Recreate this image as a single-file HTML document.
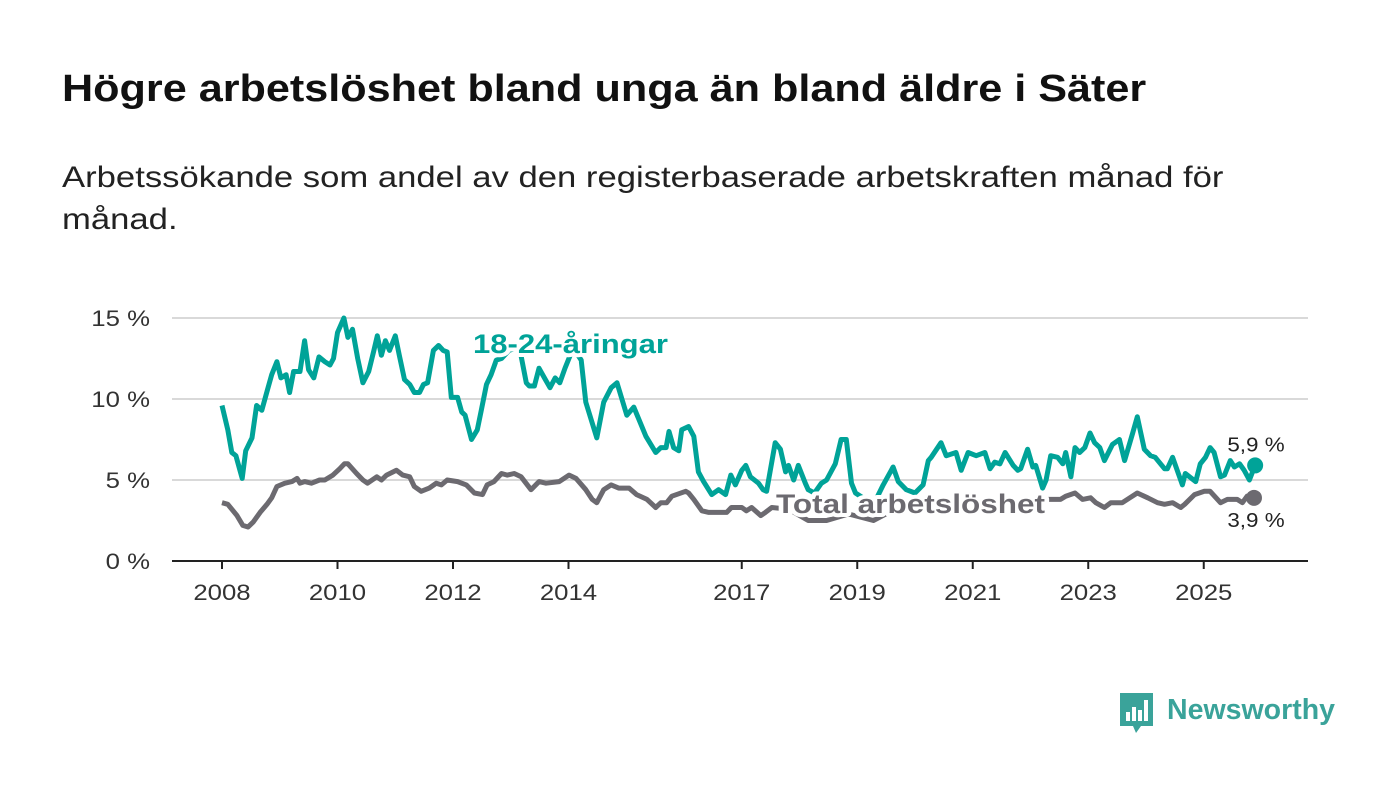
<!DOCTYPE html>
<html><head><meta charset="utf-8">
<style>
html,body{margin:0;padding:0;background:#fff;width:1400px;height:794px;overflow:hidden;font-family:"Liberation Sans",sans-serif;}
#title{position:absolute;left:62px;top:68px;font-size:38px;font-weight:bold;color:#111;white-space:nowrap;transform:scaleX(1.136);transform-origin:0 0}
#subtitle{position:absolute;left:62px;top:157px;font-size:30px;line-height:42px;color:#222;white-space:nowrap;transform:scaleX(1.155);transform-origin:0 0}
svg{position:absolute;left:0;top:0}
</style></head><body>
<div id="title">Högre arbetslöshet bland unga än bland äldre i Säter</div>
<div id="subtitle">Arbetssökande som andel av den registerbaserade arbetskraften månad för<br>månad.</div>
<svg id="chart" width="1400" height="794"></svg>
<script>
// data: years since Jan 2008, and values in percent
const youthT=[0,.10,.17,.24,.35,.41,.52,.60,.69,.79,.86,.95,1.02,1.11,1.17,1.24,1.35,1.43,1.50,1.59,1.68,1.78,1.87,1.93,2.00,2.11,2.18,2.26,2.35,2.44,2.54,2.63,2.69,2.76,2.83,2.90,3.00,3.07,3.16,3.25,3.33,3.42,3.49,3.56,3.66,3.75,3.83,3.90,3.97,4.08,4.15,4.21,4.32,4.42,4.49,4.58,4.66,4.75,4.84,4.97,5.15,5.27,5.32,5.41,5.49,5.60,5.68,5.77,5.85,5.94,6.03,6.11,6.22,6.30,6.49,6.61,6.74,6.84,7.01,7.13,7.34,7.51,7.60,7.69,7.74,7.82,7.91,7.96,8.08,8.17,8.25,8.34,8.48,8.60,8.72,8.81,8.89,9.00,9.07,9.15,9.29,9.37,9.43,9.58,9.67,9.76,9.81,9.90,9.98,10.10,10.15,10.26,10.38,10.47,10.62,10.72,10.81,10.90,10.97,11.14,11.31,11.45,11.62,11.71,11.85,12.00,12.14,12.23,12.28,12.45,12.54,12.71,12.80,12.92,13.06,13.21,13.30,13.38,13.47,13.56,13.70,13.78,13.83,13.95,14.04,14.09,14.21,14.27,14.35,14.47,14.56,14.61,14.70,14.77,14.85,14.94,15.03,15.11,15.20,15.28,15.42,15.54,15.63,15.77,15.85,15.97,16.08,16.16,16.32,16.37,16.46,16.63,16.68,16.86,16.94,17.03,17.11,17.18,17.29,17.36,17.46,17.53,17.62,17.70,17.79,17.89];
const youthV=[9.6,8.1,6.7,6.5,5.1,6.8,7.6,9.6,9.3,10.6,11.5,12.3,11.3,11.5,10.4,11.7,11.7,13.6,11.8,11.3,12.6,12.3,12.1,12.5,14.1,15.0,13.8,14.3,12.5,11.0,11.7,13.0,13.9,12.7,13.6,13.0,13.9,12.7,11.2,10.9,10.4,10.4,10.9,11.0,13.0,13.3,13.0,12.9,10.1,10.1,9.2,9.0,7.5,8.1,9.3,10.9,11.5,12.4,12.5,13.0,13.2,11.0,10.8,10.8,11.9,11.2,10.7,11.3,11.0,11.9,12.7,13.0,12.4,9.8,7.6,9.8,10.7,11.0,9.0,9.5,7.7,6.7,7.0,7.0,8.0,7.0,6.8,8.1,8.3,7.7,5.5,4.9,4.1,4.4,4.1,5.3,4.7,5.6,5.9,5.2,4.8,4.4,4.3,7.3,6.9,5.5,5.9,5.0,5.9,4.8,4.4,4.2,4.8,5.0,6.0,7.5,7.5,4.8,4.2,3.8,3.7,4.7,5.8,4.9,4.4,4.2,4.7,6.2,6.4,7.3,6.5,6.7,5.6,6.7,6.5,6.7,5.7,6.1,6.0,6.7,5.9,5.6,5.7,6.9,5.8,5.9,4.5,5.0,6.5,6.4,6.0,6.7,5.2,7.0,6.7,7.0,7.9,7.3,7.0,6.2,7.2,7.5,6.2,7.9,8.9,6.9,6.5,6.4,5.7,5.7,6.4,4.7,5.4,4.9,6.0,6.4,7.0,6.7,5.2,5.3,6.2,5.8,6.0,5.6,5.0,5.9];
const totalT=[0,.10,.26,.36,.45,.54,.66,.78,.86,.95,1.09,1.21,1.30,1.35,1.43,1.55,1.69,1.78,1.92,2.04,2.12,2.18,2.33,2.44,2.52,2.68,2.76,2.85,3.02,3.13,3.25,3.33,3.45,3.59,3.71,3.80,3.90,4.08,4.23,4.37,4.51,4.59,4.71,4.84,4.94,5.06,5.18,5.35,5.49,5.61,5.84,6.01,6.13,6.30,6.41,6.49,6.61,6.74,6.87,7.05,7.18,7.36,7.51,7.60,7.70,7.79,8.03,8.08,8.17,8.31,8.43,8.65,8.74,8.82,9.00,9.08,9.17,9.33,9.41,9.52,9.81,10.15,10.47,10.85,11.28,11.71,12.14,12.57,13.09,13.61,14.13,14.35,14.52,14.61,14.77,14.90,15.04,15.13,15.28,15.39,15.59,15.72,15.85,16.03,16.20,16.32,16.46,16.60,16.67,16.84,17.01,17.11,17.29,17.41,17.58,17.67,17.75,17.87];
const totalV=[3.6,3.5,2.8,2.2,2.1,2.4,3.0,3.5,3.9,4.6,4.8,4.9,5.1,4.8,4.9,4.8,5.0,5.0,5.3,5.7,6.0,6.0,5.4,5.0,4.8,5.2,5.0,5.3,5.6,5.3,5.2,4.6,4.3,4.5,4.8,4.7,5.0,4.9,4.7,4.2,4.1,4.7,4.9,5.4,5.3,5.4,5.2,4.4,4.9,4.8,4.9,5.3,5.1,4.4,3.8,3.6,4.4,4.7,4.5,4.5,4.1,3.8,3.3,3.6,3.6,4.0,4.3,4.2,3.8,3.1,3.0,3.0,3.0,3.3,3.3,3.1,3.3,2.8,3.0,3.3,3.2,2.5,2.5,2.9,2.5,3.3,3.8,3.6,3.5,3.6,3.8,3.8,3.8,4.0,4.2,3.8,3.9,3.6,3.3,3.6,3.6,3.9,4.2,3.9,3.6,3.5,3.6,3.3,3.5,4.1,4.3,4.3,3.6,3.8,3.8,3.6,4.0,3.9];
const yTicks=[0,5,10,15];
const yTickLabels=["0 %","5 %","10 %","15 %"];
const xTicks=[2008,2010,2012,2014,2017,2019,2021,2023,2025];
const lastYouthLabel="5,9 %", lastTotalLabel="3,9 %";

const NS="http://www.w3.org/2000/svg";
const svg=document.getElementById('chart');
const X=t=>222+t*57.75;
const Y=v=>561-v*16.2;
function el(tag,attrs,parent){const e=document.createElementNS(NS,tag);for(const k in attrs)e.setAttribute(k,attrs[k]);(parent||svg).appendChild(e);return e;}
function widen(t,f){const w=t.getComputedTextLength();t.setAttribute('textLength',(w*f).toFixed(1));t.setAttribute('lengthAdjust','spacingAndGlyphs');}
const TEAL="#00a398", GRAY="#6c6a70";

yTicks.forEach((v,i)=>{
  if(v>0){const g=el('line',{x1:172,x2:1308,y1:Y(v),y2:Y(v),stroke:'#d9d9d9','stroke-width':2});
  
  }
  const t=el('text',{x:150,y:Y(v)+8,'text-anchor':'end','font-size':22,fill:'#333'});
  t.textContent=yTickLabels[i];
  
  
  widen(t,1.17);
});
const ax=el('line',{x1:172,x2:1308,y1:561,y2:561,stroke:'#222','stroke-width':2});


xTicks.forEach(yr=>{
  const x=X(yr-2008);
  const tk=el('line',{x1:x,x2:x,y1:561,y2:569,stroke:'#222','stroke-width':2});
  
  
  const t=el('text',{x:x,y:600,'text-anchor':'middle','font-size':22,fill:'#333'});
  t.textContent=yr;
  
  
  widen(t,1.17);
});
function path(T,V){return T.map((t,i)=>(i?'L':'M')+X(t).toFixed(1)+','+Y(V[i]).toFixed(1)).join('');}
const ly=el('path',{d:path(youthT,youthV),fill:'none',stroke:TEAL,'stroke-width':5,'stroke-linejoin':'round'});


const lt=el('path',{d:path(totalT,totalV),fill:'none',stroke:GRAY,'stroke-width':5,'stroke-linejoin':'round'});


const ny=youthT.length-1, nt=totalT.length-1;
const dy=el('circle',{cx:X(youthT[ny]),cy:Y(youthV[ny]),r:8,fill:TEAL});


const dt=el('circle',{cx:X(totalT[nt]),cy:Y(totalV[nt]),r:8,fill:GRAY});


const ey=el('text',{x:1256,y:Y(youthV[ny])-14,'text-anchor':'middle','font-size':20,fill:'#222'});
ey.textContent=lastYouthLabel;


widen(ey,1.12);
const et=el('text',{x:1256,y:Y(totalV[nt])+29,'text-anchor':'middle','font-size':20,fill:'#222'});
et.textContent=lastTotalLabel;


widen(et,1.12);
const sy=el('text',{x:473,y:353,'font-size':27,'font-weight':'bold',fill:TEAL,stroke:'#fff','stroke-width':8,'paint-order':'stroke','stroke-linejoin':'round'});
sy.textContent='18-24-åringar';


sy.setAttribute('textLength','195');
sy.setAttribute('lengthAdjust','spacingAndGlyphs');
const st=el('text',{x:776,y:513,'font-size':27,'font-weight':'bold',fill:GRAY,stroke:'#fff','stroke-width':8,'paint-order':'stroke','stroke-linejoin':'round'});
st.textContent='Total arbetslöshet';


st.setAttribute('textLength','269');
st.setAttribute('lengthAdjust','spacingAndGlyphs');
</script>
<svg width="1400" height="794" style="pointer-events:none">
  <path d="M1120 693 h33 v33 h-12 l-5 7 l-3 -7 h-13 z" fill="#3aa39a"/>
  <rect x="1126" y="712" width="4" height="9" fill="#fff"/>
  <rect x="1132" y="707" width="4" height="14" fill="#fff"/>
  <rect x="1138" y="710" width="4" height="11" fill="#fff"/>
  <rect x="1144" y="700" width="4" height="21" fill="#fff"/>
  <text x="1167" y="719" font-size="29" font-weight="bold" fill="#3aa39a" font-family="Liberation Sans, sans-serif" textLength="168" lengthAdjust="spacingAndGlyphs">Newsworthy</text>
</svg>
</body></html>
